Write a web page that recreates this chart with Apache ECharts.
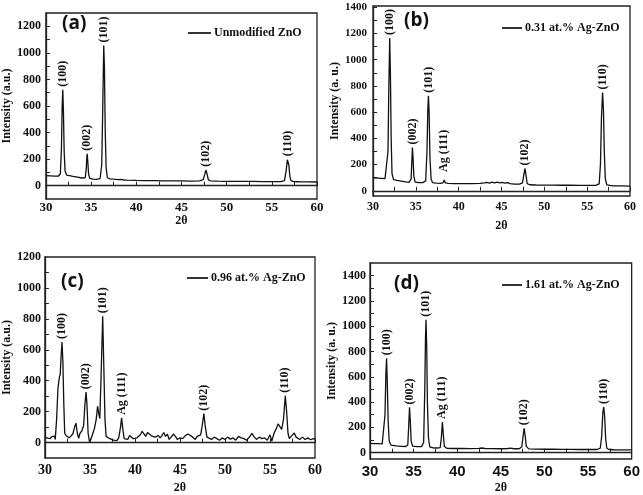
<!DOCTYPE html>
<html><head><meta charset="utf-8">
<script src="https://cdn.jsdelivr.net/npm/echarts@6/dist/echarts.min.js"></script>
<style>html,body{margin:0;padding:0;background:#fff}#c{width:643px;height:495px}</style>
</head><body><div id="c"></div>
<script>
// ---------- data ----------
const xTicks = [30,32.5,35,37.5,40,42.5,45,47.5,50,52.5,55,57.5,60];
const xLabels = [30,35,40,45,50,55,60];
const yLabelsA = [0,200,400,600,800,1000,1200];
const yTicksA = [0,100,200,300,400,500,600,700,800,900,1000,1100,1200];
const yLabelsB = [0,200,400,600,800,1000,1200,1400];
const yTicksB = [0,100,200,300,400,500,600,700,800,900,1000,1100,1200,1300,1400];
const yLabelsC = [0,200,400,600,800,1000,1200];
const yTicksC = [0,100,200,300,400,500,600,700,800,900,1000,1100];
const yLabelsD = [0,200,400,600,800,1000,1200,1400];
const yTicksD = [0,100,200,300,400,500,600,700,800,900,1000,1100,1200,1300,1400];

const legendNames = ['Unmodified ZnO','0.31 at.% Ag-ZnO','0.96 at.% Ag-ZnO','1.61 at.% Ag-ZnO'];
const panelTags = ['(a)','(b)','(c)','(d)'];
const yNames = ['Intensity (a.u.)','Intensity (a. u.)','Intensity (a.u.)','Intensity (a. u.)'];

const xrdA = [[30,76],[30.5,74],[31,72],[31.4,73],[31.6,90],[31.72,280],[31.8,600],[31.87,722],[31.94,560],[32.02,260],[32.12,110],[32.3,80],[32.6,76],[33,70],[33.5,64],[34,58],[34.35,60],[34.47,130],[34.53,220],[34.57,240],[34.63,190],[34.72,90],[34.85,55],[35.2,50],[35.6,48],[36,54],[36.18,160],[36.3,620],[36.4,1055],[36.48,880],[36.56,430],[36.66,140],[36.8,60],[37.1,52],[37.5,49],[38,46],[38.3,48],[38.6,43],[39,42],[40,40],[41,39],[42,38],[43,37],[44,37],[45,36],[46,35],[47,36],[47.4,45],[47.58,85],[47.7,118],[47.76,120],[47.85,85],[47.97,46],[48.2,37],[49,34],[50,33],[51,33],[52,32],[53,32],[54,31],[55,31],[56,31],[56.4,38],[56.58,110],[56.72,195],[56.8,200],[56.88,160],[57,70],[57.12,38],[57.4,31],[58,30],[59,29],[60,28]];

const xrdB = [[30,98],[30.5,96],[31,94],[31.4,92],[31.6,105],[31.75,300],[31.85,800],[31.95,1165],[32.03,900],[32.12,400],[32.22,130],[32.4,85],[32.8,80],[33.3,74],[33.8,68],[34.2,64],[34.45,90],[34.53,220],[34.6,330],[34.67,260],[34.77,110],[34.92,66],[35.3,63],[35.8,62],[36.15,75],[36.3,300],[36.4,620],[36.47,725],[36.55,600],[36.65,250],[36.78,90],[36.95,62],[37.4,58],[37.9,57],[38.2,62],[38.32,82],[38.45,60],[38.8,56],[39.5,55],[40.5,55],[41.5,55],[42.5,56],[43,60],[43.3,64],[43.6,58],[43.9,66],[44.2,60],[44.5,66],[44.8,60],[45.1,64],[45.4,58],[45.7,62],[46,54],[46.5,51],[47.1,50],[47.45,60],[47.6,120],[47.74,170],[47.86,120],[48.0,55],[48.3,46],[49,44],[50,43],[51,43],[52,42],[53,42],[54,41],[55,41],[56,41],[56.4,52],[56.55,200],[56.67,560],[56.8,750],[56.9,620],[57.0,300],[57.12,90],[57.3,45],[58,38],[59,37],[60,36]];

const xrdC = [[30,35],[30.15,45],[30.3,28],[30.45,40],[30.6,25],[30.75,38],[30.9,30],[31.05,42],[31.15,20],[31.3,150],[31.45,350],[31.6,420],[31.7,440],[31.8,560],[31.9,650],[32.0,520],[32.1,250],[32.2,60],[32.35,45],[32.5,40],[32.7,30],[32.9,32],[33.1,55],[33.3,100],[33.45,125],[33.6,60],[33.75,28],[33.9,60],[34.1,75],[34.3,110],[34.45,250],[34.57,326],[34.67,250],[34.8,60],[34.95,5],[35.1,20],[35.3,55],[35.5,90],[35.7,150],[35.85,235],[36.0,180],[36.1,155],[36.25,450],[36.42,817],[36.54,500],[36.67,150],[36.8,40],[37.0,35],[37.2,25],[37.4,35],[37.6,15],[37.8,20],[38.0,12],[38.2,30],[38.4,100],[38.52,160],[38.65,90],[38.8,25],[39.0,35],[39.2,20],[39.4,45],[39.6,50],[39.8,25],[40.0,20],[40.2,30],[40.4,25],[40.6,50],[40.8,72],[41.0,65],[41.2,40],[41.4,65],[41.6,55],[41.8,45],[42.0,55],[42.2,35],[42.4,30],[42.6,45],[42.8,30],[43.0,45],[43.2,65],[43.4,40],[43.6,55],[43.8,20],[44.0,30],[44.3,55],[44.5,40],[44.7,20],[45.0,30],[45.3,25],[45.6,45],[45.9,55],[46.1,65],[46.3,40],[46.5,30],[46.7,20],[46.9,40],[47.1,35],[47.3,50],[47.5,120],[47.66,187],[47.8,110],[48.0,35],[48.2,30],[48.5,20],[48.8,35],[49.1,25],[49.4,15],[49.7,30],[50.0,20],[50.3,35],[50.6,22],[50.9,30],[51.2,15],[51.5,40],[51.8,30],[52.1,25],[52.4,15],[52.7,35],[53.0,60],[53.2,40],[53.5,20],[53.8,35],[54.1,25],[54.4,30],[54.7,15],[55.0,50],[55.2,10],[55.45,60],[55.7,90],[55.9,120],[56.1,115],[56.3,85],[56.5,150],[56.7,302],[56.85,200],[57.0,60],[57.15,25],[57.35,40],[57.5,30],[57.7,62],[57.9,35],[58.1,25],[58.3,20],[58.6,35],[58.9,20],[59.2,30],[59.5,18],[59.8,25],[60,22]];

const xrdD = [[30,73],[30.5,72],[31,71],[31.4,70],[31.6,85],[31.72,300],[31.82,620],[31.9,746],[31.98,560],[32.08,250],[32.2,90],[32.4,60],[33,53],[33.6,50],[34.1,49],[34.33,60],[34.43,200],[34.53,358],[34.62,250],[34.72,90],[34.88,52],[35.4,48],[35.9,48],[36.15,80],[36.28,500],[36.36,900],[36.42,1052],[36.5,850],[36.58,400],[36.7,120],[36.85,45],[37.2,39],[37.7,37],[38.05,40],[38.18,120],[38.3,243],[38.4,150],[38.52,50],[38.8,35],[39.5,33],[40.5,33],[41.5,32],[42.5,34],[42.8,37],[43.2,33],[44,32],[45,31],[45.8,33],[46.1,36],[46.5,31],[47.1,31],[47.4,45],[47.55,130],[47.67,193],[47.78,140],[47.92,50],[48.2,30],[49,28],[50,27],[51,27],[52,26],[53,26],[54,25],[55,25],[56,25],[56.4,35],[56.55,120],[56.7,320],[56.8,361],[56.9,290],[57.02,110],[57.15,35],[57.4,25],[58,23],[59,22],[60,22]];

// peak labels: [2theta, intensity at label base, text]
const peaksA = [[31.87,722,'(100)'],[34.57,240,'(002)'],[36.4,1055,'(101)'],[47.76,120,'(102)'],[56.8,200,'(110)']];
const peaksB = [[31.95,1165,'(100)'],[34.6,330,'(002)'],[36.47,725,'(101)'],[38.32,120,'Ag (111)'],[47.74,170,'(102)'],[56.8,750,'(110)']];
const peaksC = [[31.9,650,'(100)'],[34.57,326,'(002)'],[36.42,817,'(101)'],[38.52,160,'Ag (111)'],[47.66,187,'(102)'],[56.7,302,'(110)']];
const peaksD = [[31.9,746,'(100)'],[34.53,358,'(002)'],[36.42,1052,'(101)'],[38.3,243,'Ag (111)'],[47.67,193,'(102)'],[56.8,361,'(110)']];

// ---------- layout ----------
const SERIF = '"Liberation Serif","Times New Roman",serif';
const SANS = '"Liberation Sans",Arial,sans-serif';
const INK = '#111';
const panels = [
  {grid:{left:44,top:13,width:273,height:186}, ymin:-100, ymax:1300, yl:yLabelsA, yt:yTicksA, data:xrdA, peaks:peaksA,
   yFs:12, xFs:13, xFont:SERIF, xMargin:2, yMargin:5, yNameGap:28, xNameGap:13,
   legend:{left:188,top:27,w:23}, tag:{left:62,top:14}},
  {grid:{left:373,top:6,width:257,height:190}, ymin:-40, ymax:1410, yl:yLabelsB, yt:yTicksB, data:xrdB, peaks:peaksB,
   yFs:11, xFs:12, xFont:SERIF, xMargin:5, yMargin:6, yNameGap:30, xNameGap:24,
   legend:{left:502,top:22,w:20}, tag:{left:404,top:11}},
  {grid:{left:44,top:257,width:271,height:201}, ymin:-100, ymax:1200, yl:yLabelsC, yt:yTicksC, data:xrdC, peaks:peaksC,
   yFs:12, xFs:14, xFont:SERIF, xMargin:5, yMargin:4, yNameGap:31, xNameGap:24,
   legend:{left:187,top:272,w:21}, tag:{left:61,top:272}},
  {grid:{left:370,top:263,width:265,height:196}, ymin:-50, ymax:1500, yl:yLabelsD, yt:yTicksD, data:xrdD, peaks:peaksD,
   yFs:12, xFs:15, xFont:SANS, xMargin:5, yMargin:4, yNameGap:31, xNameGap:23,
   legend:{left:502,top:279,w:20}, tag:{left:394,top:274}}
];

const plain = v => String(v);
const option = {animation:false, backgroundColor:'#fff', grid:[], xAxis:[], yAxis:[], series:[], legend:[], title:[]};
panels.forEach((p,i)=>{
  option.grid.push(Object.assign({show:true, borderColor:'#222', borderWidth:1.3, backgroundColor:'transparent'}, p.grid));
  option.xAxis.push({type:'value', gridIndex:i, min:30, max:60,
    name:'2θ', nameLocation:'middle', nameGap:p.xNameGap,
    nameTextStyle:{fontFamily:SERIF, fontWeight:'bold', fontSize:12, color:INK},
    axisLine:{lineStyle:{color:'#222', width:1.3}},
    axisTick:{inside:true, length:4, customValues:xTicks, lineStyle:{color:'#222'}},
    axisLabel:{customValues:xLabels, formatter:plain, margin:p.xMargin, fontFamily:p.xFont, fontWeight:'bold', fontSize:p.xFs, color:INK},
    splitLine:{show:false}});
  option.yAxis.push({type:'value', gridIndex:i, min:p.ymin, max:p.ymax,
    name:yNames[i], nameLocation:'middle', nameGap:p.yNameGap,
    nameTextStyle:{fontFamily:SERIF, fontWeight:'bold', fontSize:12, color:INK},
    axisLine:{show:true, lineStyle:{color:'#222', width:1.3}},
    axisTick:{show:true, inside:true, length:4, customValues:p.yt, lineStyle:{color:'#222'}},
    axisLabel:{customValues:p.yl, formatter:plain, margin:p.yMargin, fontFamily:SERIF, fontWeight:'bold', fontSize:p.yFs, color:INK},
    splitLine:{show:false}});
  option.series.push({type:'line', name:legendNames[i], xAxisIndex:i, yAxisIndex:i, data:p.data,
    symbol:'none', showSymbol:false, lineStyle:{color:INK, width:1.3}, itemStyle:{color:'#333'},
    markPoint:{symbol:'circle', symbolSize:0, silent:true,
      data:p.peaks.map(k=>({coord:[k[0],k[1]], name:k[2]})),
      label:{show:true, formatter:'{b}', rotate:90, position:'top', distance:3, align:'left', verticalAlign:'middle',
        fontFamily:SERIF, fontWeight:'bold', fontSize:12, color:INK}}});
  option.legend.push({data:[legendNames[i]], left:p.legend.left, top:p.legend.top, padding:0,
    icon:'rect', itemWidth:p.legend.w, itemHeight:2, itemGap:0,
    textStyle:{fontFamily:SERIF, fontWeight:'bold', fontSize:12, color:INK, padding:[0,0,0,-2]}});
  option.title.push({text:panelTags[i], left:p.tag.left, top:p.tag.top, padding:0,
    textStyle:{fontFamily:'"Open Sans",sans-serif', fontWeight:'bold', fontSize:19, color:INK}});
});

const chart = echarts.init(document.getElementById('c'), null, {renderer:'canvas'});
chart.setOption(option);
</script>
</body></html>
